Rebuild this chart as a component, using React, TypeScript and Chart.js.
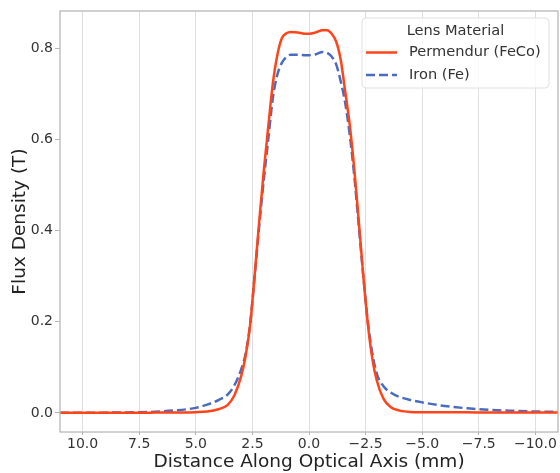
import React, { useEffect, useRef } from "react";
import { Chart, registerables } from "chart.js";

Chart.register(...registerables);

// Distance along the optical axis (mm)
const xPositions = [
  11, 9, 7, 6, 5, 4.5, 4, 3.6, 3.3, 3.0, 2.8, 2.6, 2.4, 2.2, 2.0, 1.8, 1.6, 1.4, 1.2, 1.0, 0.8, 0.5, 0.2, 0,
  -0.3, -0.6, -0.8, -1.0, -1.2, -1.4, -1.6, -1.8, -2.0, -2.2, -2.4, -2.6, -2.8, -3.0, -3.3, -3.6, -4.0, -4.5,
  -5, -6, -7, -8, -9, -10, -11,
];

// Flux density, Permendur (FeCo), in T
const permendurFlux = [
  0.0, 0.0002, 0.0005, 0.0008, 0.0015, 0.003, 0.008, 0.017, 0.038, 0.08, 0.125, 0.193, 0.303, 0.42, 0.53,
  0.628, 0.722, 0.785, 0.822, 0.833, 0.836, 0.835, 0.832, 0.832, 0.835, 0.840, 0.840, 0.832, 0.815, 0.775,
  0.705, 0.632, 0.535, 0.42, 0.30, 0.195, 0.118, 0.07, 0.03, 0.013, 0.005, 0.002, 0.0015, 0.0012, 0.0011,
  0.001, 0.001, 0.001, 0.001,
];

// Flux density, Iron (Fe), in T
const ironFlux = [
  0.0, 0.0005, 0.002, 0.005, 0.011, 0.018, 0.028, 0.04, 0.06, 0.095, 0.13, 0.195, 0.30, 0.41, 0.51, 0.60,
  0.69, 0.742, 0.768, 0.781, 0.786, 0.786, 0.785, 0.785, 0.787, 0.792, 0.790, 0.782, 0.765, 0.728, 0.68,
  0.61, 0.52, 0.41, 0.30, 0.20, 0.13, 0.085, 0.058, 0.045, 0.035, 0.028, 0.023, 0.015, 0.010, 0.0065,
  0.0045, 0.003, 0.002,
];

const xTickValues = [10, 7.5, 5, 2.5, 0, -2.5, -5, -7.5, -10];
const yTickValues = [0, 0.2, 0.4, 0.6, 0.8];

const seriesLabels = ["Permendur (FeCo)", "Iron (Fe)"];
const legendTitle = "Lens Material";
const xTitle = "Distance Along Optical Axis (mm)";
const yTitle = "Flux Density (T)";

const FONT = "'DejaVu Sans', sans-serif";

const fmt = (v: number) => {
  const s = Math.abs(v).toFixed(1);
  return v < 0 ? "\u2212" + s : s;
};

const framePlugin = {
  id: "frameAndLegend",
  afterDraw(chart: any) {
    const { ctx, chartArea } = chart;
    const { left, top, right, bottom } = chartArea;
    ctx.save();
    // spines
    ctx.strokeStyle = "#b5b5b5";
    ctx.lineWidth = 1.25;
    ctx.strokeRect(left, top, right - left, bottom - top);

    // legend
    const bw = 187;
    const bh = 70;
    const bx = right - 9 - bw;
    const by = top + 7;
    const r = 4;
    ctx.beginPath();
    ctx.moveTo(bx + r, by);
    ctx.lineTo(bx + bw - r, by);
    ctx.quadraticCurveTo(bx + bw, by, bx + bw, by + r);
    ctx.lineTo(bx + bw, by + bh - r);
    ctx.quadraticCurveTo(bx + bw, by + bh, bx + bw - r, by + bh);
    ctx.lineTo(bx + r, by + bh);
    ctx.quadraticCurveTo(bx, by + bh, bx, by + bh - r);
    ctx.lineTo(bx, by + r);
    ctx.quadraticCurveTo(bx, by, bx + r, by);
    ctx.closePath();
    ctx.fillStyle = "rgba(255,255,255,0.85)";
    ctx.fill();
    ctx.strokeStyle = "#e0e0e0";
    ctx.lineWidth = 1;
    ctx.stroke();

    ctx.fillStyle = "#333333";
    ctx.font = `14.6px ${FONT}`;
    ctx.textBaseline = "middle";
    ctx.textAlign = "center";
    ctx.fillText(legendTitle, bx + bw / 2, by + 13);

    chart.data.datasets.forEach((ds: any, i: number) => {
      const y = by + 34.5 + i * 22.5;
      ctx.beginPath();
      ctx.strokeStyle = ds.borderColor;
      ctx.lineWidth = ds.borderWidth;
      ctx.setLineDash(ds.borderDash || []);
      ctx.moveTo(bx + 4, y);
      ctx.lineTo(bx + 35, y);
      ctx.stroke();
      ctx.setLineDash([]);
      ctx.fillStyle = "#333333";
      ctx.textAlign = "left";
      ctx.fillText(ds.label, bx + 47, y);
    });
    ctx.restore();
  },
};

export default function App() {
  const ref = useRef<HTMLCanvasElement | null>(null);

  useEffect(() => {
    document.body.style.margin = "0";
    const canvas = ref.current;
    if (!canvas) return;
    const chart = new Chart(canvas, {
      type: "line",
      data: {
        datasets: [
          {
            label: seriesLabels[0],
            data: xPositions.map((x, i) => ({ x, y: permendurFlux[i] })),
            borderColor: "#ff4419",
            borderWidth: 2.5,
            pointRadius: 0,
            cubicInterpolationMode: "monotone",
            fill: false,
          },
          {
            label: seriesLabels[1],
            data: xPositions.map((x, i) => ({ x, y: ironFlux[i] })),
            borderColor: "#4a6cc0",
            borderWidth: 2.5,
            borderDash: [9, 4],
            pointRadius: 0,
            cubicInterpolationMode: "monotone",
            fill: false,
          },
        ],
      },
      options: {
        animation: false,
        responsive: false,
        maintainAspectRatio: false,
        layout: { padding: { top: 11, right: 2, left: 0, bottom: 0 } },
        plugins: {
          legend: { display: false },
          tooltip: { enabled: false },
        },
        scales: {
          x: {
            type: "linear",
            reverse: true,
            min: -11,
            max: 11,
            afterBuildTicks: (s: any) => {
              s.ticks = xTickValues.map((v) => ({ value: v }));
            },
            afterFit: (s: any) => {
              s.height = 41;
            },
            ticks: {
              callback: (v: any) => fmt(Number(v)),
              font: { family: FONT, size: 14 },
              color: "#333333",
              padding: 1,
              maxRotation: 0,
              autoSkip: false,
            },
            grid: {
              color: "#dedede",
              lineWidth: 1,
              drawTicks: true,
              tickLength: 3,
              tickColor: "#b5b5b5",
            },
            border: { display: false },
            title: {
              display: true,
              text: xTitle,
              font: { family: FONT, size: 18.5 },
              color: "#222222",
              padding: { top: 0, bottom: 0 },
            },
          },
          y: {
            type: "linear",
            min: -0.042,
            max: 0.882,
            afterBuildTicks: (s: any) => {
              s.ticks = yTickValues.map((v) => ({ value: v }));
            },
            afterFit: (s: any) => {
              s.width = 60;
            },
            ticks: {
              callback: (v: any) => fmt(Number(v)),
              font: { family: FONT, size: 14 },
              color: "#333333",
              padding: 2,
            },
            grid: {
              drawOnChartArea: false,
              drawTicks: true,
              tickLength: 5,
              tickColor: "#b5b5b5",
            },
            border: { display: false },
            title: {
              display: true,
              text: yTitle,
              font: { family: FONT, size: 18.5 },
              color: "#222222",
              padding: { top: 9, bottom: 0 },
            },
          },
        },
      },
      plugins: [framePlugin],
    });
    return () => chart.destroy();
  }, []);

  return (
    <div style={{ width: 560, height: 473 }}>
      <canvas ref={ref} width={560} height={473} style={{ display: "block" }} />
    </div>
  );
}
